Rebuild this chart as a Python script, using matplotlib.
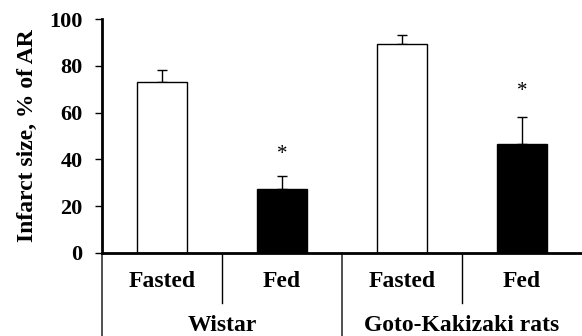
import matplotlib
matplotlib.use("Agg")
import matplotlib.pyplot as plt

conditions = ["Fasted", "Fed", "Fasted", "Fed"]
groups = ["Wistar", "Goto-Kakizaki rats"]
values = [73.2, 27.2, 89.4, 46.4]
errors = [5.0, 5.7, 4.0, 11.6]
star_y = [None, 43.6, None, 70.4]
yticks = [0, 20, 40, 60, 80, 100]

plt.rcParams['font.family'] = ['Liberation Serif', 'DejaVu Serif']
plt.rcParams['font.weight'] = 'bold'

fig = plt.figure(figsize=(5.82, 3.36), dpi=100)
ax = fig.add_axes([102/582, (336-252.7)/336, 480/582, (252.7-19.3)/336])

x = list(range(len(values)))
colors = ["white", "black", "white", "black"]
ax.bar(x, values, width=0.42, color=colors, edgecolor="black", linewidth=1.0, zorder=2)
ax.errorbar(x, values, yerr=[[0]*len(errors), errors], fmt="none", ecolor="black",
            elinewidth=1.0, capsize=3.6, capthick=1.0, zorder=1)

for xi, sy in zip(x, star_y):
    if sy is not None:
        ax.text(xi, sy - 1.5, "*", ha="center", va="center", fontsize=15,
                fontweight="normal")

ax.set_xlim(-0.5, 3.5)
ax.set_ylim(0, 100)
ax.set_yticks(yticks)
ax.set_yticklabels([str(t) for t in yticks], fontsize=16, fontweight="bold")
ax.tick_params(axis="y", direction="out", length=5, width=1.0, pad=9)
ax.set_xticks([])
ax.spines["top"].set_visible(False)
ax.spines["right"].set_visible(False)
ax.spines["left"].set_linewidth(2.0)
ax.spines["bottom"].set_linewidth(2.0)
ax.set_ylabel("Infarct size, % of AR", fontsize=17, fontweight="bold", labelpad=8)

# lower category separators
for sx in [0.5, 2.5]:
    ax.plot([sx, sx], [0, -21.5], color="black", linewidth=1.0, clip_on=False)
for sx in [-0.5, 1.5]:
    ax.plot([sx, sx], [0, -40], color="#333333", linewidth=1.2, clip_on=False)

for xi, c in zip(x, conditions):
    ax.text(xi, -12.4, c, ha="center", va="center", fontsize=17, fontweight="bold")
for gi, g in enumerate(groups):
    ax.text(0.5 + 2*gi, -31.0, g, ha="center", va="center", fontsize=17, fontweight="bold")

fig.savefig("out.png", dpi=100)
